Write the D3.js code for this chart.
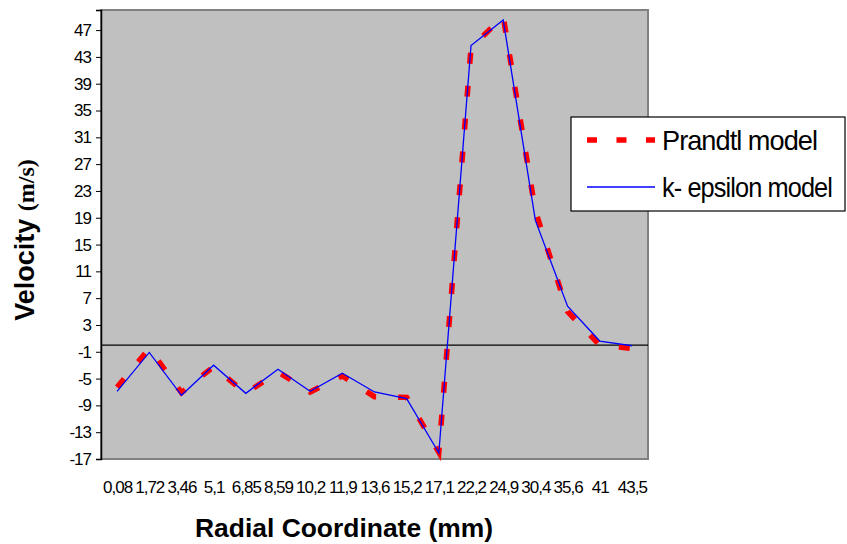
<!DOCTYPE html>
<html>
<head>
<meta charset="utf-8">
<script src="https://cdn.jsdelivr.net/npm/d3@7"></script>
<style>
  body { margin: 0; background: #fff; }
  svg { display: block; font-family: "Liberation Sans", Arial, sans-serif; }
</style>
</head>
<body>
<div id="chart"></div>
<script>
//radial positions (category labels, as printed with decimal commas)
var categories = ["0,08","1,72","3,46","5,1","6,85","8,59","10,2","11,9","13,6","15,2","17,1","22,2","24,9","30,4","35,6","41","43,5"];
//velocities
var prandtl = [-6.3, -0.5, -7.1, -3.2, -7.2, -4.0, -7.0, -4.6, -7.7, -7.8, -16.0, 44.4, 49.0, 20.0, 5.0, 0.0, -0.5];
var kEpsilon = [-6.9, -1.1, -7.5, -3.0, -7.2, -3.6, -6.9, -4.2, -7.0, -8.0, -16.1, 44.7, 48.5, 18.6, 5.8, 0.6, -0.1];
var yTicks = [-17, -13, -9, -5, -1, 3, 7, 11, 15, 19, 23, 27, 31, 35, 39, 43, 47];
var seriesNames = ["Prandtl model", "k- epsilon model"];

var W = 847, H = 544;
var plot = {left: 101, right: 648, top: 10, bottom: 459};

var svg = d3.select("#chart").append("svg")
    .attr("width", W)
    .attr("height", H);

//scales
var x = d3.scalePoint()
    .domain(categories)
    .range([plot.left, plot.right])
    .padding(0.5);
var y = d3.scaleLinear()
    .domain([-17, 50])
    .range([plot.bottom, plot.top]);

//gray plot area
svg.append("rect")
    .attr("x", plot.left)
    .attr("y", plot.top)
    .attr("width", plot.right - plot.left)
    .attr("height", plot.bottom - plot.top)
    .attr("fill", "#c0c0c0")
    .attr("stroke", "#808080")
    .attr("stroke-width", 2);

//zero line (category axis crossing)
svg.append("line")
    .attr("x1", plot.left).attr("x2", plot.right)
    .attr("y1", y(0)).attr("y2", y(0))
    .attr("stroke", "#000")
    .attr("stroke-width", 1.2);

//Y axis
var yAxis = d3.axisLeft(y)
    .tickValues(yTicks)
    .tickSize(5)
    .tickPadding(5)
    .tickFormat(function(d) { return String(d); });
var gy = svg.append("g")
    .attr("transform", "translate(" + plot.left + ",0)")
    .call(yAxis);
gy.select(".domain").attr("stroke", "#000").attr("stroke-width", 1.5);
gy.selectAll(".tick line").attr("stroke", "#000");
gy.selectAll(".tick text")
    .attr("fill", "#000")
    .style("font-size", "17px")
    .style("letter-spacing", "-1px")
    .style("font-family", "'Liberation Sans', Arial, sans-serif");

//X axis labels at the bottom
var xAxis = d3.axisBottom(x).tickSize(0).tickPadding(22);
var gx = svg.append("g")
    .attr("transform", "translate(0," + plot.bottom + ")")
    .call(xAxis);
gx.select(".domain").remove();
gx.selectAll(".tick text")
    .attr("fill", "#000")
    .style("font-size", "17px")
    .style("letter-spacing", "-1px")
    .style("font-family", "'Liberation Sans', Arial, sans-serif");

//lines
var line = d3.line()
    .x(function(d, i) { return x(categories[i]); })
    .y(function(d) { return y(d); });

svg.append("path")
    .datum(prandtl)
    .attr("fill", "none")
    .attr("stroke", "#ff0000")
    .attr("stroke-width", 5.5)
    .attr("stroke-dasharray", "11,22")
    .attr("d", line);

svg.append("path")
    .datum(kEpsilon)
    .attr("fill", "none")
    .attr("stroke", "#0000ff")
    .attr("stroke-width", 1.3)
    .attr("d", line);

//axis titles
svg.append("text")
    .attr("x", 344)
    .attr("y", 537)
    .attr("text-anchor", "middle")
    .attr("textLength", 298)
    .attr("lengthAdjust", "spacingAndGlyphs")
    .style("font-size", "26px")
    .style("font-weight", "bold")
    .text("Radial Coordinate (mm)");

var yt = svg.append("text")
    .attr("transform", "translate(34,240) rotate(-90)")
    .attr("text-anchor", "middle")
    .style("font-size", "27px")
    .style("font-weight", "bold");
yt.append("tspan").text("Velocity ");
yt.append("tspan")
    .style("font-family", "'Liberation Serif', 'Times New Roman', serif")
    .style("font-size", "24px")
    .text("(m/s)");

//legend
var lg = svg.append("g");
lg.append("rect")
    .attr("x", 571).attr("y", 117)
    .attr("width", 274).attr("height", 94)
    .attr("fill", "#fff")
    .attr("stroke", "#000")
    .attr("stroke-width", 1.2);

var legendRows = [
  {name: seriesNames[0], color: "#ff0000", width: 5.5, dash: "10,19.5", y: 140},
  {name: seriesNames[1], color: "#0000ff", width: 1.3, dash: null, y: 187}
];
legendRows.forEach(function(r, i) {
  lg.append("line")
    .attr("x1", 587).attr("x2", 655)
    .attr("y1", r.y).attr("y2", r.y)
    .attr("stroke", r.color)
    .attr("stroke-width", r.width)
    .attr("stroke-dasharray", r.dash);
  lg.append("text")
    .attr("x", 662)
    .attr("y", r.y + 10)
    .attr("textLength", i == 0 ? 155 : 170)
    .attr("lengthAdjust", "spacingAndGlyphs")
    .style("font-size", "28px")
    .style("letter-spacing", "-1px")
    .text(r.name);
});
</script>
</body>
</html>
